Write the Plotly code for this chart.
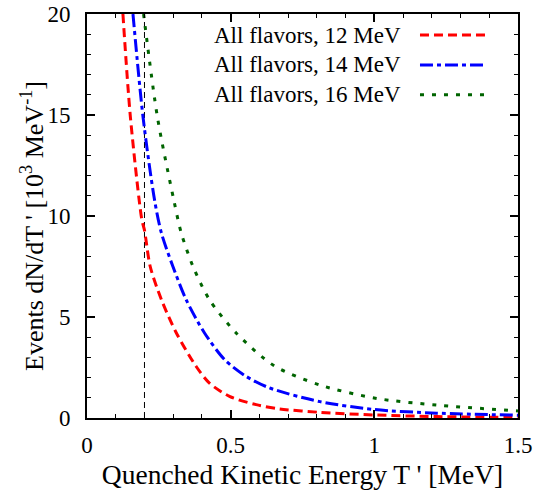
import plotly.graph_objects as go

# Data
t_12 = [0.125, 0.151, 0.191, 0.2, 0.22, 0.259, 0.311, 0.38, 0.426, 0.496, 0.589, 0.67, 0.811, 1.0, 1.217, 1.5]
y_12 = [20.0, 14.9, 9.8, 9.3, 7.5, 5.86, 4.21, 2.55, 1.73, 1.07, 0.66, 0.45, 0.28, 0.15, 0.07, 0.03]

t_14 = [0.16, 0.195, 0.235, 0.259, 0.299, 0.345, 0.409, 0.479, 0.554, 0.635, 0.811, 1.0, 1.217, 1.5]
y_14 = [20.0, 14.9, 10.8, 9.16, 7.5, 5.86, 4.21, 2.89, 2.06, 1.49, 0.81, 0.42, 0.24, 0.14]

t_16 = [0.197, 0.245, 0.302, 0.328, 0.369, 0.426, 0.519, 0.65, 0.811, 1.008, 1.217, 1.5]
y_16 = [20.0, 14.9, 10.8, 9.16, 7.5, 5.86, 4.21, 2.6, 1.63, 0.97, 0.64, 0.35]

threshold_t = [0.2, 0.2]
threshold_y = [0, 20]

labels = ["All flavors, 12 MeV", "All flavors, 14 MeV", "All flavors, 16 MeV"]
colors = ["#ff0000", "#0000ff", "#006400"]
dashes = ["9px,5px", "13px,4px,4px,4px", "4px,8px"]

FONT = "Liberation Serif"

fig = go.Figure()
fig.add_trace(go.Scatter(x=threshold_t, y=threshold_y, mode="lines",
                         line=dict(color="black", width=1, dash="6px,4px"),
                         showlegend=False, hoverinfo="skip"))
for t, y, c, d, name in zip([t_12, t_14, t_16], [y_12, y_14, y_16], colors, dashes, labels):
    fig.add_trace(go.Scatter(x=t, y=y, mode="lines", name=name,
                             line=dict(color=c, width=3, dash=d, shape="spline", smoothing=0.8),
                             showlegend=False))

# Manual legend: text on the left, line sample on the right
rows_y = [0.948, 0.874, 0.800]
for name, c, d, ry in zip(labels, colors, dashes, rows_y):
    fig.add_annotation(x=0.734, y=ry, xref="paper", yref="paper", text=name,
                       showarrow=False, xanchor="right", yanchor="middle",
                       font=dict(family=FONT, size=23, color="black"))
    fig.add_shape(type="line", xref="paper", yref="paper", x0=0.7726, x1=0.926,
                  y0=ry, y1=ry, line=dict(color=c, width=3, dash=d))

# Y-axis title (placed as rotated text, slightly below the plot centre as in the reference)
fig.add_annotation(x=-0.128, y=0.475, xref="paper", yref="paper",
                   text="Events dN/dT ' [10<sup>3</sup> MeV<sup>-1</sup>]",
                   textangle=-90, showarrow=False, xanchor="center", yanchor="middle",
                   font=dict(family=FONT, size=26, color="black"))

axis_common = dict(
    showgrid=False, zeroline=False, showline=True, linecolor="black", linewidth=2,
    mirror="ticks", ticks="inside", ticklen=8, tickwidth=1.5, tickcolor="black",
    tickfont=dict(family=FONT, size=23, color="black"), automargin=False,
)

fig.update_xaxes(range=[0, 1.5], tickvals=[0, 0.5, 1, 1.5], ticktext=["0", "0.5", "1", "1.5"],
                 minor=dict(dtick=0.1, ticks="inside", ticklen=4, tickcolor="black", tickwidth=1),
                 ticklabelstandoff=5,
                 title=dict(text="Quenched Kinetic Energy T ' [MeV]",
                            font=dict(family=FONT, size=27.5, color="black"), standoff=8),
                 **axis_common)
fig.update_yaxes(range=[0, 20], tickvals=[0, 5, 10, 15, 20],
                 minor=dict(dtick=1, ticks="inside", ticklen=4, tickcolor="black", tickwidth=1),
                 ticklabelstandoff=10,
                 **axis_common)

fig.update_layout(width=539, height=493, margin=dict(l=87, r=21, t=14, b=75),
                  plot_bgcolor="white", paper_bgcolor="white",
                  font=dict(family=FONT, color="black"))

fig.write_html("out.html", config={"displayModeBar": False},
               post_script="document.body.style.margin='0';")
